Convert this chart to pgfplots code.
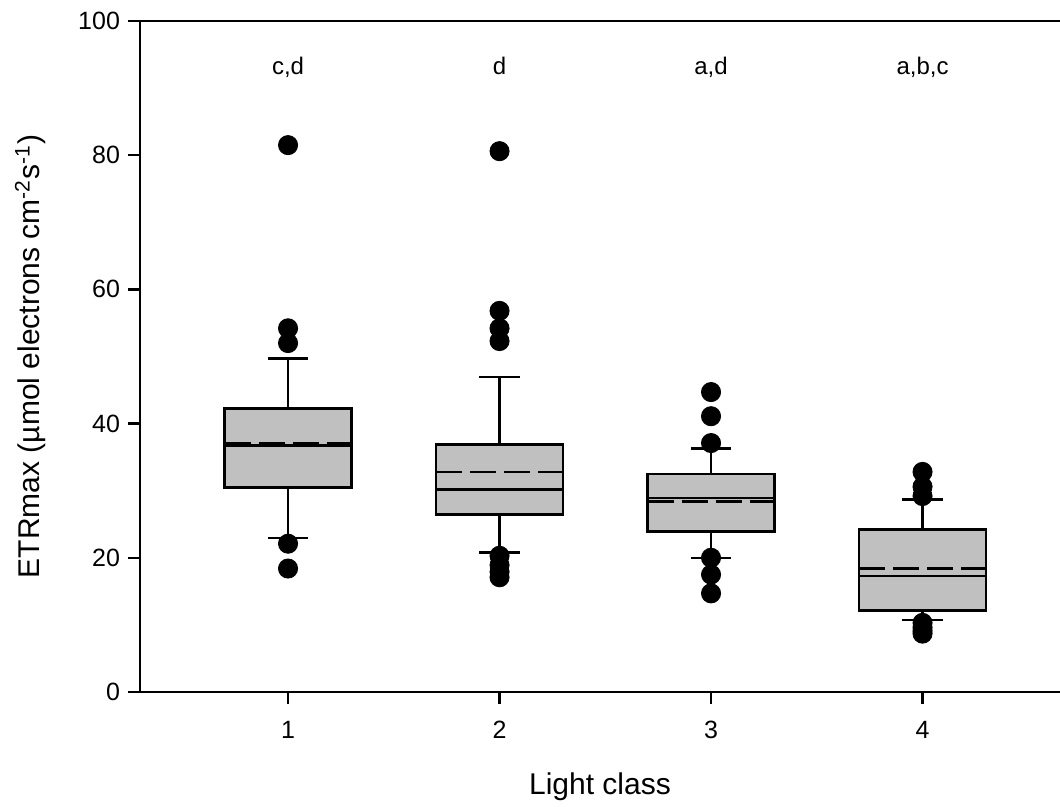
\documentclass[border=0pt]{standalone}
\usepackage{fontspec}
\setmainfont{Liberation Sans}
\usepackage{pgfplots}
\pgfplotsset{compat=1.18}
\definecolor{boxgray}{RGB}{192,192,192}
\pgfplotsset{
  boxst/.style={fill=boxgray, draw=black, line width=1.4pt, mark=none},
  whisk/.style={draw=black, line width=1.1pt, mark=none, unbounded coords=jump},
  medst/.style={draw=black, line width=1.3pt, mark=none},
  meanst/.style={draw=black, line width=1.3pt, dash pattern=on 13pt off 4pt, mark=none},
  outst/.style={only marks, mark=*, mark size=4.8pt, mark options={fill=black, draw=black}},
}
\begin{document}
\begin{tikzpicture}
\begin{axis}[
  name=ax,
  width=460pt, height=335.5pt, scale only axis,
  xmin=0.3, xmax=4.65, ymin=0, ymax=100,
  axis lines*=left,
  axis line style={line width=1.3pt, black},
  xtick={1,2,3,4}, ytick={0,20,40,60,80,100},
  tick align=outside, major tick length=6pt,
  tick style={line width=1.2pt, black},
  /pgf/number format/assume math mode=true,
  tick label style={font=\fontsize{12.5}{14}\selectfont},
  yticklabel style={xshift=-0.5pt},
  xticklabel style={yshift=-5pt},
  xlabel={Light class},
  ylabel={ETRmax (µmol electrons cm\textsuperscript{-2}s\textsuperscript{-1})},
  label style={font=\fontsize{15}{18}\selectfont},
  xlabel style={at={(axis description cs:0.5,-0.1535)}, anchor=base},
  ylabel style={at={(axis description cs:-0.1087,0.5)}, anchor=base},
  clip=false,
]
% ---- whiskers (stem to quartile, then cap) ----
\addplot[whisk] coordinates {(1,42.3) (1,49.7) (1,nan) (0.905,49.7) (1.095,49.7) (1,nan)
  (1,30.5) (1,23.0) (1,nan) (0.905,23.0) (1.095,23.0)};
\addplot[whisk] coordinates {(2,36.9) (2,47.0) (2,nan) (1.905,47.0) (2.095,47.0) (2,nan)
  (2,26.4) (2,20.8) (2,nan) (1.905,20.8) (2.095,20.8)};
\addplot[whisk] coordinates {(3,32.5) (3,36.3) (3,nan) (2.905,36.3) (3.095,36.3) (3,nan)
  (3,23.9) (3,20.0) (3,nan) (2.905,20.0) (3.095,20.0)};
\addplot[whisk] coordinates {(4,24.2) (4,28.7) (4,nan) (3.905,28.7) (4.095,28.7) (4,nan)
  (4,12.1) (4,10.7) (4,nan) (3.905,10.7) (4.095,10.7)};
% ---- boxes (lower quartile to upper quartile) ----
\addplot[boxst] coordinates {(0.7,30.5) (1.3,30.5) (1.3,42.3) (0.7,42.3)} -- cycle;
\addplot[boxst] coordinates {(1.7,26.4) (2.3,26.4) (2.3,36.9) (1.7,36.9)} -- cycle;
\addplot[boxst] coordinates {(2.7,23.9) (3.3,23.9) (3.3,32.5) (2.7,32.5)} -- cycle;
\addplot[boxst] coordinates {(3.7,12.1) (4.3,12.1) (4.3,24.2) (3.7,24.2)} -- cycle;
% ---- medians ----
\addplot[medst] coordinates {(0.7,36.7) (1.3,36.7)};
\addplot[medst] coordinates {(1.7,30.2) (2.3,30.2)};
\addplot[medst] coordinates {(2.7,28.9) (3.3,28.9)};
\addplot[medst] coordinates {(3.7,17.3) (4.3,17.3)};
% ---- means ----
\addplot[meanst] coordinates {(0.7,37.0) (1.3,37.0)};
\addplot[meanst] coordinates {(1.7,32.8) (2.3,32.8)};
\addplot[meanst] coordinates {(2.7,28.4) (3.3,28.4)};
\addplot[meanst] coordinates {(3.7,18.4) (4.3,18.4)};
% ---- outliers ----
\addplot[outst] coordinates {(1,81.5) (1,54.2) (1,52.0) (1,22.1) (1,18.4)};
\addplot[outst] coordinates {(2,80.6) (2,56.8) (2,54.2) (2,52.3) (2,20.3) (2,18.9) (2,17.9) (2,17.1)};
\addplot[outst] coordinates {(3,44.7) (3,41.1) (3,37.1) (3,20.0) (3,17.5) (3,14.7)};
\addplot[outst] coordinates {(4,32.8) (4,30.6) (4,29.2) (4,10.3) (4,9.6) (4,9.1) (4,8.7)};
\draw[line width=1.3pt, black] (rel axis cs:0,1) -- (rel axis cs:1,1);
\node[anchor=base, font=\fontsize{12}{14}\selectfont] at (axis cs:1,92) {c,d};
\node[anchor=base, font=\fontsize{12}{14}\selectfont] at (axis cs:2,92) {d};
\node[anchor=base, font=\fontsize{12}{14}\selectfont] at (axis cs:3,92) {a,d};
\node[anchor=base, font=\fontsize{12}{14}\selectfont] at (axis cs:4,92) {a,b,c};
\end{axis}
\pgfresetboundingbox
\path[use as bounding box] ([xshift=-70pt,yshift=-57.5pt]ax.south west) rectangle ([yshift=10.5pt]ax.north east);
\end{tikzpicture}
\end{document}
